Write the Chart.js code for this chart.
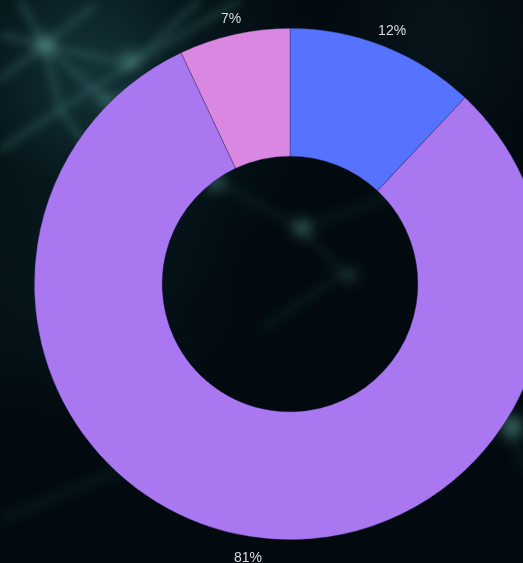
<!DOCTYPE html>
<html>
<head>
<meta charset="utf-8">
<script src="https://cdn.jsdelivr.net/npm/chart.js@4"></script>
<style>
  html, body { margin: 0; padding: 0; }
  body {
    width: 523px; height: 563px; overflow: hidden; position: relative;
    background:
      radial-gradient(ellipse at 90px 70px, rgba(25,65,68,0.75) 0, rgba(10,35,40,0.5) 110px, rgba(0,0,0,0) 230px),
      radial-gradient(ellipse at 60px 300px, rgba(8,30,36,0.6) 0, rgba(0,0,0,0) 200px),
      radial-gradient(ellipse at 440px 40px, rgba(12,32,38,0.5) 0, rgba(0,0,0,0) 120px),
      #020a0f;
  }
  #bg { position: absolute; left: 0; top: 0; }
  #wrap { position: absolute; left: 0; top: 0; width: 580px; height: 568px; }
</style>
</head>
<body>
<svg id="bg" width="523" height="563">
  <defs>
    <filter id="blur"><feGaussianBlur stdDeviation="4"/></filter>
    <filter id="blur2"><feGaussianBlur stdDeviation="6"/></filter>
    <filter id="glow"><feGaussianBlur stdDeviation="7"/></filter>
  </defs>
  <g filter="url(#blur)" stroke="rgba(70,130,125,0.3)" stroke-width="7" fill="none">
    <path d="M0 35 L45 45 L130 65 L200 0"/>
    <path d="M45 45 L105 100 L150 150"/>
    <path d="M0 80 L45 45 L95 5"/>
    <path d="M130 65 L190 30 L240 0"/>
    <path d="M20 0 L45 45 L60 110 L90 150"/>
    <path d="M0 150 L60 110 L130 65"/>
    <path d="M105 100 L200 70"/>
  </g>
  <g filter="url(#blur2)" stroke="rgba(45,95,95,0.16)" stroke-width="8" fill="none">
    <path d="M215 180 L300 228 L350 280"/>
    <path d="M300 228 L410 190"/>
    <path d="M260 330 L345 272"/>
    <path d="M480 360 L512 427 L523 470"/>
    <path d="M0 520 L120 470 L200 440"/>
  </g>
  <g filter="url(#glow)" fill="rgba(90,150,145,0.6)">
    <circle cx="45" cy="45" r="10"/>
    <circle cx="130" cy="60" r="9"/>
    <circle cx="105" cy="100" r="6"/>
    <circle cx="215" cy="182" r="8"/>
    <circle cx="302" cy="228" r="8"/>
    <circle cx="350" cy="275" r="5"/>
    <circle cx="512" cy="427" r="11"/>
  </g>
</svg>
<div id="wrap"><canvas id="donut"></canvas></div>
<script>
// ── Share doughnut ──
const labels = ['A', 'B', 'C'];
const shares = [12, 81, 7];
const colors = ['#5573ff', '#a977ef', '#d987e0'];

// percent labels just outside the ring
const outerLabels = {
  id: 'outerLabels',
  afterDatasetsDraw(chart) {
    const ctx = chart.ctx;
    const meta = chart.getDatasetMeta(0);
    ctx.save();
    ctx.font = '14px "Liberation Sans", Arial, sans-serif';
    ctx.fillStyle = '#dcdcdc';
    ctx.textAlign = 'center';
    ctx.textBaseline = 'middle';
    meta.data.forEach((arc, i) => {
      const mid = (arc.startAngle + arc.endAngle) / 2;
      const r = arc.outerRadius + 19;
      ctx.fillText(shares[i] + '%', arc.x + Math.cos(mid) * r + 1, arc.y + Math.sin(mid) * r + 3);
    });
    ctx.restore();
  }
};

new Chart(document.getElementById('donut').getContext('2d'), {
  type: 'doughnut',
  data: {
    labels: labels,
    datasets: [{ data: shares, backgroundColor: colors, borderWidth: 0.6, borderColor: 'rgba(40,30,80,0.6)' }]
  },
  options: {
    responsive: true,
    maintainAspectRatio: false,
    animation: false,
    cutout: '50%',
    layout: { padding: 28 },
    plugins: { legend: { display: false }, tooltip: { enabled: false } }
  },
  plugins: [outerLabels]
});
</script>
</body>
</html>
